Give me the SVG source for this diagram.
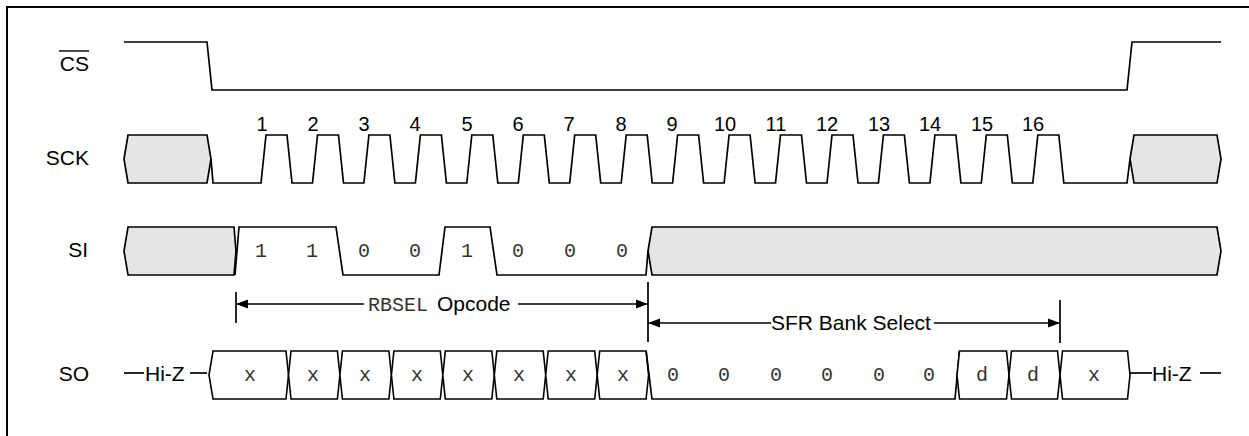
<svg xmlns="http://www.w3.org/2000/svg" width="1249" height="436" viewBox="0 0 1249 436">
<style>
.lbl{font-family:"Liberation Sans",Arial,sans-serif;font-size:21px;fill:#000}
.num{font-family:"Liberation Sans",Arial,sans-serif;font-size:20px;fill:#000;text-anchor:middle}
.mono{font-family:"Liberation Mono","Courier New",monospace;font-size:20px;fill:#333;text-anchor:middle}
.sig{fill:none;stroke:#000;stroke-width:1.7;stroke-linejoin:miter}
.gray{fill:#e5e5e5;stroke:#000;stroke-width:1.7}
.box{fill:#fff;stroke:#000;stroke-width:1.6}
.dim{fill:none;stroke:#000;stroke-width:1.7}
</style>
<defs>
<marker id="ah" viewBox="0 0 12 10" refX="12" refY="5" markerWidth="12" markerHeight="10" markerUnits="userSpaceOnUse" orient="auto">
<path d="M0,0.5 L12,5 L0,9.5 Z" fill="#000"/>
</marker>
</defs>
<rect width="1249" height="436" fill="#fff"/>
<g id="frame">
<path d="M1249,7 H7 V436" fill="none" stroke="#000" stroke-width="2"/>
</g>
<g id="cs">
<text class="lbl" x="89" y="71" text-anchor="end">CS</text>
<line x1="59" y1="51" x2="89" y2="51" stroke="#000" stroke-width="1.4"/>
<polyline class="sig" points="124,42 207,42 212,90 1127,90 1132,42 1221,42"/>
</g>
<g id="sck">
<text class="lbl" x="89" y="165" text-anchor="end">SCK</text>
<polygon class="gray" points="124,159 128,135 207,135 211,159 207,183 128,183"/>
<polygon class="gray" points="1130,159 1134,135 1217,135 1221,159 1217,183 1134,183"/>
<polyline class="sig" points="211,159 213,183 261,183 266,135 287,135 292,183 312.5,183 317.5,135 338.5,135 343.5,183 363.9,183 368.9,135 389.9,135 394.9,183 415.4,183 420.4,135 441.4,135 446.4,183 466.8,183 471.8,135 492.8,135 497.8,183 518.3,183 523.3,135 544.3,135 549.3,183 569.7,183 574.7,135 595.7,135 600.7,183 621.2,183 626.2,135 647.2,135 652.2,183 672.6,183 677.6,135 698.6,135 703.6,183 724.1,183 729.1,135 750.1,135 755.1,183 775.5,183 780.5,135 801.5,135 806.5,183 827,183 832,135 853,135 858,183 878.4,183 883.4,135 904.4,135 909.4,183 929.9,183 934.9,135 955.9,135 960.9,183 981.3,183 986.3,135 1007.3,135 1012.3,183 1032.8,183 1037.8,135 1058.8,135 1063.8,183 1127,183 1130,159"/>
<text class="num" x="262" y="131">1</text>
<text class="num" x="313" y="131">2</text>
<text class="num" x="364" y="131">3</text>
<text class="num" x="415" y="131">4</text>
<text class="num" x="467" y="131">5</text>
<text class="num" x="518" y="131">6</text>
<text class="num" x="569" y="131">7</text>
<text class="num" x="621" y="131">8</text>
<text class="num" x="672" y="131">9</text>
<text class="num" x="725" y="131">10</text>
<text class="num" x="776" y="131">11</text>
<text class="num" x="827" y="131">12</text>
<text class="num" x="879" y="131">13</text>
<text class="num" x="930" y="131">14</text>
<text class="num" x="982" y="131">15</text>
<text class="num" x="1033" y="131">16</text>
</g>
<g id="si">
<text class="lbl" x="88" y="257" text-anchor="end">SI</text>
<polygon class="gray" points="124,251 128,227 234,227 236,251 234,275 128,275"/>
<polygon class="gray" points="648,251 652,227 1217,227 1221,251 1217,275 652,275"/>
<polyline class="sig" points="235,275 239,227 336,227 343,275 439,275 445,227 490,227 497,275 646,275 648,251"/>
<text class="mono" x="261" y="257">1</text>
<text class="mono" x="312" y="257">1</text>
<text class="mono" x="364" y="257">0</text>
<text class="mono" x="415" y="257">0</text>
<text class="mono" x="467" y="257">1</text>
<text class="mono" x="518" y="257">0</text>
<text class="mono" x="570" y="257">0</text>
<text class="mono" x="622" y="257">0</text>
</g>
<g id="so">
<text class="lbl" x="89" y="381" text-anchor="end">SO</text>
<line x1="124" y1="373" x2="144" y2="373" stroke="#000" stroke-width="1.7"/>
<text class="lbl" x="145" y="381">Hi-Z</text>
<line x1="190" y1="373" x2="207" y2="373" stroke="#000" stroke-width="1.7"/>
<polygon class="box" points="209,375 213,351 286,351 288.5,375 286,399 213,399"/>
<polygon class="box" points="288.5,375 291,351 337.4,351 339.9,375 337.4,399 291,399"/>
<polygon class="box" points="339.9,375 342.4,351 388.9,351 391.4,375 388.9,399 342.4,399"/>
<polygon class="box" points="391.4,375 393.9,351 440.3,351 442.8,375 440.3,399 393.9,399"/>
<polygon class="box" points="442.8,375 445.3,351 491.8,351 494.3,375 491.8,399 445.3,399"/>
<polygon class="box" points="494.3,375 496.8,351 543.2,351 545.7,375 543.2,399 496.8,399"/>
<polygon class="box" points="545.7,375 548.2,351 594.7,351 597.2,375 594.7,399 548.2,399"/>
<polygon class="box" points="597.2,375 599.7,351 646.1,351 648.6,375 646.1,399 599.7,399"/>
<polyline class="sig" points="646.1,351 652,399 955,399 959.5,351"/>
<polygon class="box" points="957,375 959.5,351 1006.5,351 1009,375 1006.5,399 959.5,399"/>
<polygon class="box" points="1009,375 1011.5,351 1057.5,351 1060,375 1057.5,399 1011.5,399"/>
<polygon class="box" points="1060,375 1062.5,351 1127.5,351 1130,375 1127.5,399 1062.5,399"/>
<line x1="1130" y1="373" x2="1152" y2="373" stroke="#000" stroke-width="1.7"/>
<text class="lbl" x="1152" y="381">Hi-Z</text>
<line x1="1200" y1="373" x2="1221" y2="373" stroke="#000" stroke-width="1.7"/>
<text class="mono" x="250" y="381">x</text>
<text class="mono" x="313" y="381">x</text>
<text class="mono" x="365" y="381">x</text>
<text class="mono" x="417" y="381">x</text>
<text class="mono" x="468" y="381">x</text>
<text class="mono" x="519" y="381">x</text>
<text class="mono" x="571" y="381">x</text>
<text class="mono" x="623" y="381">x</text>
<text class="mono" x="673" y="381">0</text>
<text class="mono" x="724" y="381">0</text>
<text class="mono" x="776" y="381">0</text>
<text class="mono" x="827" y="381">0</text>
<text class="mono" x="879" y="381">0</text>
<text class="mono" x="929" y="381">0</text>
<text class="mono" x="982" y="381">d</text>
<text class="mono" x="1033" y="381">d</text>
<text class="mono" x="1094" y="381">x</text>
</g>
<g id="connectors">
<line class="dim" x1="236" y1="292" x2="236" y2="323"/>
<line class="dim" x1="648" y1="282" x2="648" y2="342"/>
<line class="dim" x1="1060" y1="300" x2="1060" y2="343"/>
<line class="dim" x1="364" y1="304" x2="236" y2="304" marker-end="url(#ah)"/>
<line class="dim" x1="518" y1="304" x2="648" y2="304" marker-end="url(#ah)"/>
<line class="dim" x1="771" y1="323" x2="648" y2="323" marker-end="url(#ah)"/>
<line class="dim" x1="934" y1="323" x2="1060" y2="323" marker-end="url(#ah)"/>
</g>
<g id="dim-labels">
<text x="368" y="311" style="font-family:'Liberation Mono','Courier New',monospace;font-size:20px;fill:#333">RBSEL</text>
<text class="lbl" x="437" y="311">Opcode</text>
<text class="lbl" x="771" y="330">SFR Bank Select</text>
</g>
</svg>
